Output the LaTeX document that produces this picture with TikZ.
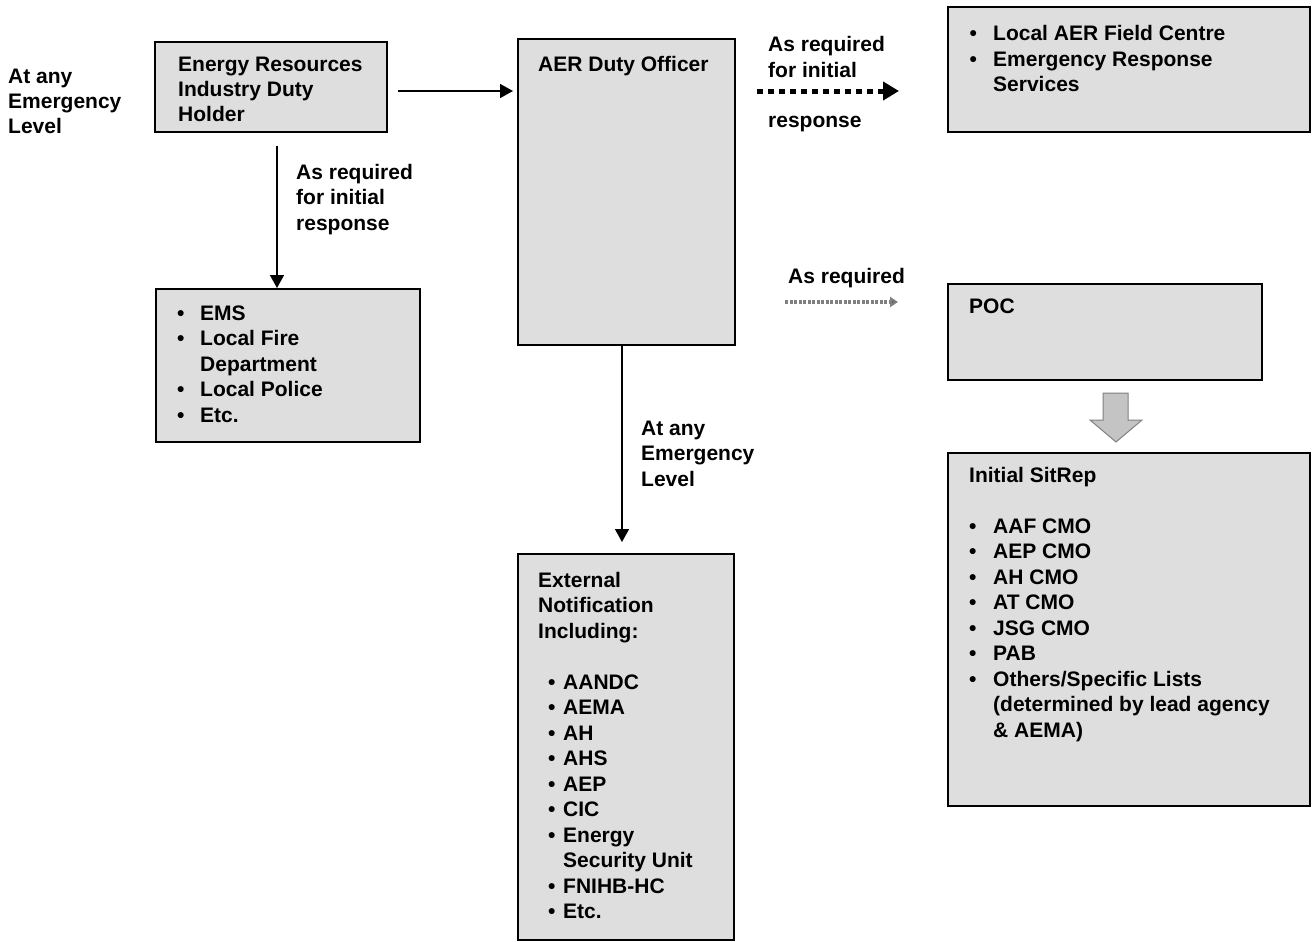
\documentclass[tikz,border=0pt]{standalone}
\usepackage{fontspec}
\setmainfont{Liberation Sans}
\usetikzlibrary{arrows.meta}
\definecolor{boxfill}{HTML}{DEDEDE}
\definecolor{blockfill}{HTML}{C4C4C4}
\newcommand{\mybul}[1]{\makebox[#1][l]{\textbullet}}
\newcommand{\myskip}[1]{\makebox[#1]{}}
\begin{document}
\begin{tikzpicture}[x=1pt,y=-1pt,
  box/.style={draw=black, line width=2pt, fill=boxfill, anchor=north west, inner sep=0pt},
  txt/.style={anchor=base west, inner sep=0pt, font=\fontsize{21}{25.5}\selectfont\bfseries},
  arr/.style={line width=1.5pt, -{Triangle[length=13pt,width=14pt]}},
  bigdots/.style={line width=5pt, dash pattern=on 6pt off 5pt, -{Triangle[length=16pt,width=18pt]}},
  smalldots/.style={line width=3.5pt, draw=gray, dash pattern=on 3pt off 1.5pt, -{Triangle[length=8pt,width=10pt,fill=gray!70!black]}},
  blockarrow/.style={fill=blockfill, draw=gray, line width=1pt}
]
\useasboundingbox (0,0) rectangle (1314,942);

% boxes
\node[box, minimum width=232pt, minimum height=90pt]  (eri) at (154,41) {};
\node[box, minimum width=217pt, minimum height=306pt] (aer) at (517,38) {};
\node[box, minimum width=264pt, minimum height=153pt] (ems) at (155,288) {};
\node[box, minimum width=362pt, minimum height=125pt] (lfc) at (947,6) {};
\node[box, minimum width=314pt, minimum height=96pt]  (poc) at (947,283) {};
\node[box, minimum width=362pt, minimum height=353pt] (sit) at (947,452) {};
\node[box, minimum width=216pt, minimum height=386pt] (ext) at (517,553) {};

% free labels
\node[txt] (lblA) at (8,83) {\begin{tabular}[t]{@{}l@{}}At any\\Emergency\\Level\end{tabular}};
\node[txt] (lblB) at (296,179) {\begin{tabular}[t]{@{}l@{}}As required\\for initial\\response\end{tabular}};
\node[txt] (lblC) at (768,52) {\begin{tabular}[t]{@{}l@{}}As required\\for initial\end{tabular}};
\node[txt] (lblD) at (768,127) {response};
\node[txt] (lblE) at (788,283) {As required};
\node[txt] (lblF) at (641,435) {\begin{tabular}[t]{@{}l@{}}At any\\Emergency\\Level\end{tabular}};

% box texts
\node[txt] (eriT) at (178,71) {\begin{tabular}[t]{@{}l@{}}Energy Resources\\Industry Duty\\Holder\end{tabular}};
\node[txt] (aerT) at (538,71) {AER Duty Officer};
\node[txt] (lfcT) at (969.3,41) {\begin{tabular}[t]{@{}l@{}}
  \mybul{23.7pt}Local AER Field Centre\\
  \mybul{23.7pt}Emergency Response\\
  \myskip{23.7pt}Services\end{tabular}};
\node[txt] (emsT) at (177,320) {\begin{tabular}[t]{@{}l@{}}
  \mybul{23pt}EMS\\
  \mybul{23pt}Local Fire\\
  \myskip{23pt}Department\\
  \mybul{23pt}Local Police\\
  \mybul{23pt}Etc.\end{tabular}};
\node[txt] (pocT) at (969,313) {POC};
\node[txt] (sitT) at (969,482) {\begin{tabular}[t]{@{}l@{}}
  Initial SitRep\\
  \\
  \mybul{24pt}AAF CMO\\
  \mybul{24pt}AEP CMO\\
  \mybul{24pt}AH CMO\\
  \mybul{24pt}AT CMO\\
  \mybul{24pt}JSG CMO\\
  \mybul{24pt}PAB\\
  \mybul{24pt}Others/Specific Lists\\
  \myskip{24pt}(determined by lead agency\\
  \myskip{24pt}\&\ AEMA)\end{tabular}};
\node[txt] (extT) at (538,587) {\begin{tabular}[t]{@{}l@{}}
  External\\
  Notification\\
  Including:\\
  \\
  \myskip{10pt}\mybul{15pt}AANDC\\
  \myskip{10pt}\mybul{15pt}AEMA\\
  \myskip{10pt}\mybul{15pt}AH\\
  \myskip{10pt}\mybul{15pt}AHS\\
  \myskip{10pt}\mybul{15pt}AEP\\
  \myskip{10pt}\mybul{15pt}CIC\\
  \myskip{10pt}\mybul{15pt}Energy\\
  \myskip{25pt}Security Unit\\
  \myskip{10pt}\mybul{15pt}FNIHB-HC\\
  \myskip{10pt}\mybul{15pt}Etc.\end{tabular}};

% connectors
\coordinate (h1) at ([xshift=10pt,yshift=-4pt]eri.east);
\draw[arr] (h1) -- ([xshift=-4pt]aer.west |- h1);
\coordinate (v1) at ([xshift=6pt,yshift=-13pt]eri.south);
\draw[arr] (v1) -- (v1 |- ems.north);
\coordinate (v2) at ([xshift=-4.5pt]aer.south);
\draw[arr] (v2) -- ([yshift=11pt]v2 |- ext.north);
\coordinate (d1s) at (757,91);
\coordinate (d1e) at (899,91);
\draw[bigdots] (d1s) -- (d1e);
\coordinate (d2s) at (785,302);
\coordinate (d2e) at (898,302);
\draw[smalldots] (d2s) -- (d2e);
% block arrow from POC to Initial SitRep
\draw[blockarrow] (1103,393) -- (1128,393) -- (1128,420) -- (1142,420) -- (1116,442) -- (1090,420) -- (1103,420) -- cycle;
\end{tikzpicture}
\end{document}
